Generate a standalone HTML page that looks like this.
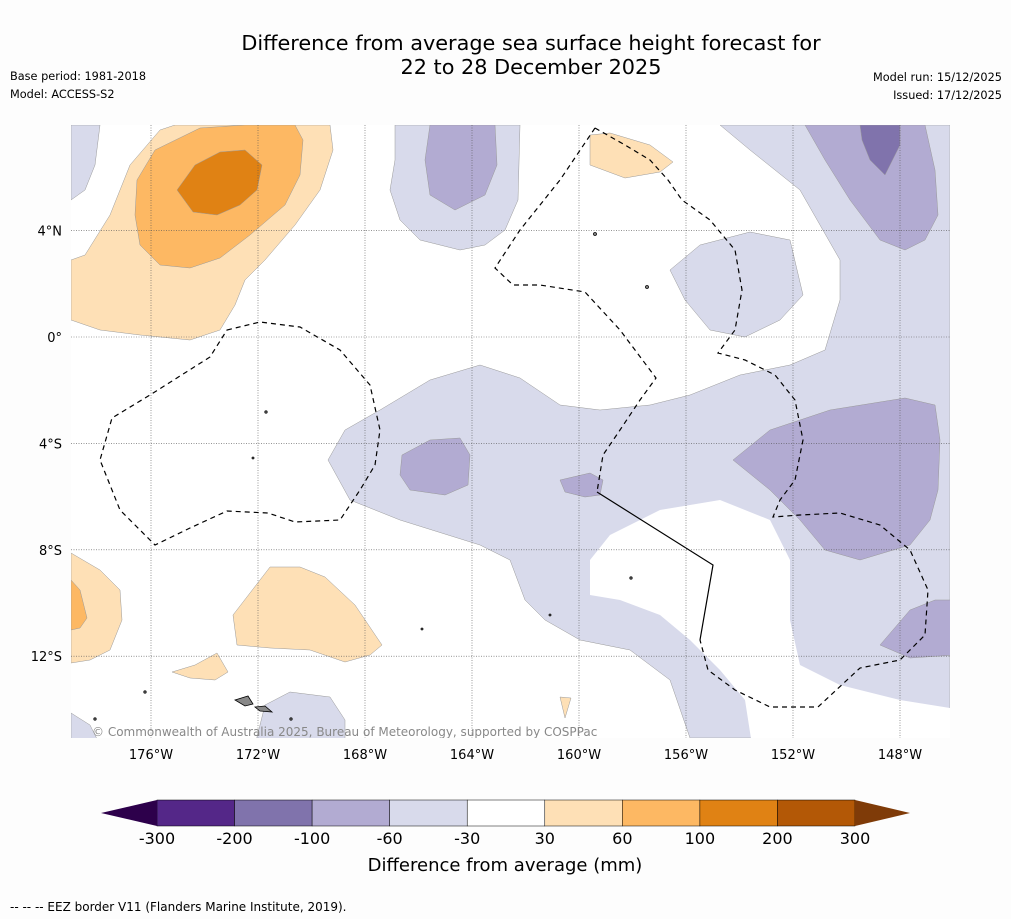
<!DOCTYPE html>
<html><head><meta charset="utf-8">
<style>
body{margin:0;background:#fff;width:1011px;height:919px;overflow:hidden;font-family:"DejaVu Sans","Liberation Sans",sans-serif;}
svg{position:absolute;left:0;top:0}
</style></head>
<body>
<svg id="chart" width="1011" height="919" viewBox="0 0 1011 919">
<rect width="1011" height="919" fill="#fdfdfd"/>
<text x="531" y="50" font-size="20.8" text-anchor="middle">Difference from average sea surface height forecast for</text>
<text x="531" y="74" font-size="20.8" text-anchor="middle">22 to 28 December 2025</text>
<text x="10" y="80" font-size="11.3">Base period: 1981-2018</text>
<text x="10" y="98" font-size="11.3">Model: ACCESS-S2</text>
<text x="1002" y="81" font-size="11.3" text-anchor="end">Model run: 15/12/2025</text>
<text x="1002" y="99" font-size="11.3" text-anchor="end">Issued: 17/12/2025</text>
<defs><clipPath id="mc"><rect x="71" y="125" width="879" height="613"/></clipPath></defs>
<g clip-path="url(#mc)">
<rect x="71" y="125" width="879" height="613" fill="#fff"/>
<g stroke="#999" stroke-width="0.5">
<path fill="#d8daeb" d="M720,125 L950,125 L950,738 L690,738 L670,680 L630,650 L580,640 L545,620 L525,600 L510,560 L480,545 L400,520 L350,500 L328,460 L345,430 L380,410 L430,380 L480,365 L520,378 L560,405 L600,410 L650,405 L690,395 L740,375 L790,365 L825,350 L840,300 L840,260 L800,190 L750,150 Z"/>
<path fill="#fff" stroke="none" d="M590,560 L610,535 L660,510 L720,500 L770,520 L790,560 L790,620 L800,665 L840,685 L900,700 L950,708 L950,745 L752,745 L745,700 L720,670 L690,640 L660,615 L620,600 L590,595 Z"/>
<path fill="#d8daeb" d="M71,125 L100,125 L95,165 L85,190 L71,200 Z"/>
<path fill="#d8daeb" d="M395,125 L520,125 L518,200 L505,230 L485,245 L460,250 L420,240 L400,220 L390,190 L395,160 Z"/>
<path fill="#d8daeb" d="M670,270 L700,245 L750,232 L790,240 L803,295 L780,320 L745,337 L710,330 L685,300 Z"/>
<path fill="#d8daeb" d="M255,745 L265,705 L290,692 L330,697 L345,720 L345,745 Z"/>
<path fill="#d8daeb" d="M71,713 L90,725 L100,745 L71,745 Z"/>
<path fill="#b2abd2" d="M430,125 L495,125 L497,165 L485,195 L455,210 L430,195 L425,160 Z"/>
<path fill="#b2abd2" d="M805,125 L925,125 L935,170 L938,215 L925,240 L905,250 L880,240 L850,200 L825,160 Z"/>
<path fill="#b2abd2" d="M402,455 L430,440 L460,438 L470,455 L468,485 L445,495 L410,490 L400,475 Z"/>
<path fill="#b2abd2" d="M560,480 L590,473 L603,480 L600,495 L585,497 L565,492 Z"/>
<path fill="#b2abd2" d="M733,460 L770,430 L830,410 L905,398 L935,405 L940,440 L938,490 L930,520 L910,545 L860,560 L825,550 L800,520 L770,490 Z"/>
<path fill="#b2abd2" d="M880,645 L910,610 L935,600 L955,600 L955,655 L910,658 Z"/>
<path fill="#8073ac" d="M860,125 L900,125 L900,145 L885,175 L870,160 L862,140 Z"/>
<path fill="#fee0b6" d="M71,260 L85,255 L110,215 L130,165 L160,130 L175,125 L330,125 L333,150 L320,190 L295,225 L265,260 L245,280 L235,305 L220,330 L190,340 L140,335 L100,330 L71,320 Z"/>
<path fill="#fee0b6" d="M590,135 L610,133 L650,145 L673,162 L660,172 L625,178 L590,165 Z"/>
<path fill="#fee0b6" d="M71,553 L100,570 L120,590 L122,620 L110,650 L90,660 L71,663 Z"/>
<path fill="#fee0b6" d="M233,615 L270,567 L300,567 L325,577 L355,605 L382,645 L370,655 L345,662 L310,650 L270,648 L237,645 Z"/>
<path fill="#fee0b6" d="M172,672 L195,665 L217,653 L228,672 L215,680 L190,678 Z"/>
<path fill="#fee0b6" d="M560,697 L571,698 L565,718 Z"/>
<path fill="#fdb863" d="M137,180 L155,150 L200,128 L245,125 L295,125 L303,140 L300,175 L285,205 L250,235 L220,258 L190,268 L160,265 L140,245 L135,215 Z"/>
<path fill="#fdb863" d="M71,580 L80,590 L87,618 L80,628 L71,630 Z"/>
<path fill="#e08214" d="M177,190 L195,165 L220,152 L245,150 L262,165 L257,190 L240,205 L217,215 L193,212 Z"/>
</g>
<g id="grid" stroke="#555" stroke-width="0.6" stroke-dasharray="1,1.5" fill="none"></g>
<g fill="none" stroke="#000" stroke-width="1.2" stroke-dasharray="5,4">
<path d="M595,128 L625,145 L650,160 L668,180 L682,200 L710,220 L735,250 L742,290 L735,330 L718,353 L745,360 L775,375 L795,400 L803,440 L795,480 L780,500 L773,517 L800,515 L840,513 L880,525 L910,550 L928,590 L925,635 L900,660 L860,668 L818,707 L770,707 L735,690 L708,670 L700,640"/>
<path d="M595,128 L560,180 L520,230 L495,268 L513,285 L540,285 L585,292 L620,330 L656,378 L640,400 L620,430 L603,455 L597,492"/>
<path d="M227,330 L260,322 L300,327 L340,350 L370,385 L380,430 L375,465 L360,490 L340,520 L295,522 L268,513 L227,511 L190,528 L155,545 L120,510 L100,460 L112,418 L150,395 L210,357 Z"/>
</g>
<path d="M597,492 L713,565 L700,640" fill="none" stroke="#000" stroke-width="1.2"/>
<g fill="#888" stroke="#000" stroke-width="0.8">
<path d="M235,700 L248,696 L253,704 L245,706 Z"/><path d="M255,707 L265,706 L272,712 L260,711 Z"/>
<circle cx="266" cy="412" r="1.2"/><circle cx="253" cy="458" r="1"/><circle cx="595" cy="234" r="1.5"/><circle cx="647" cy="287" r="1.5"/><circle cx="631" cy="578" r="1.2"/><circle cx="145" cy="692" r="1.2"/><circle cx="550" cy="615" r="1"/><circle cx="422" cy="629" r="1"/><circle cx="291" cy="719" r="1.2"/><circle cx="95" cy="719" r="1.2"/>
</g>
<text x="92" y="736" font-size="12" fill="#888">© Commonwealth of Australia 2025, Bureau of Meteorology, supported by COSPPac</text>
</g>
<g id="axes" font-size="13"></g>
<g id="cbar"></g>
<text x="505" y="871" font-size="18" text-anchor="middle">Difference from average (mm)</text>
<text x="10" y="911" font-size="12">--  --  -- EEZ border V11 (Flanders Marine Institute, 2019).</text>
</svg>
<script>
const lonTicks=[-176,-172,-168,-164,-160,-156,-152,-148];
const latTicks=[4,0,-4,-8,-12];
const cbarLevels=[-300,-200,-100,-60,-30,30,60,100,200,300];
const cbarColors=["#542788","#8073ac","#b2abd2","#d8daeb","#ffffff","#fee0b6","#fdb863","#e08214","#b35806"];
const cbarUnder="#2d004b", cbarOver="#7f3b08";
const NS="http://www.w3.org/2000/svg";
const lonX=l=>151+(l+176)*26.75;
const latY=l=>337-l*26.6;
function mk(tag,attrs,parent){const e=document.createElementNS(NS,tag);for(const k in attrs)e.setAttribute(k,attrs[k]);parent.appendChild(e);return e;}
const grid=document.getElementById('grid'),axes=document.getElementById('axes');
lonTicks.forEach(l=>{
  const x=lonX(l);
  const g=mk('line',{x1:x,x2:x,y1:125,y2:738},grid);
  
  
  const t=mk('text',{x:x,y:759,'text-anchor':'middle'},axes);
  t.textContent=Math.abs(l)+'°W';
  
  
});
latTicks.forEach(l=>{
  const y=latY(l);
  const g=mk('line',{x1:71,x2:950,y1:y,y2:y},grid);
  
  
  const t=mk('text',{x:62,y:y+5,'text-anchor':'end'},axes);
  t.textContent=l===0?'0°':Math.abs(l)+'°'+(l>0?'N':'S');
  
  
});
const cb=document.getElementById('cbar');
const x0=157,x1=855,y0=800,y1=826,n=cbarColors.length,w=(x1-x0)/n;
cbarColors.forEach((c,i)=>{
  const r=mk('rect',{x:x0+i*w,y:y0,width:w,height:y1-y0,fill:c,stroke:'#000','stroke-width':0.5},cb);
  
  
});
const tu=mk('polygon',{points:`${x0},${y0} ${x0},${y1} 101,813`,fill:cbarUnder},cb);


const to=mk('polygon',{points:`${x1},${y0} ${x1},${y1} 910,813`,fill:cbarOver},cb);


cbarLevels.forEach((v,i)=>{
  const t=mk('text',{x:x0+i*w,y:844,'text-anchor':'middle','font-size':16},cb);
  t.textContent=v;
  
  
});
</script>
</body></html>
